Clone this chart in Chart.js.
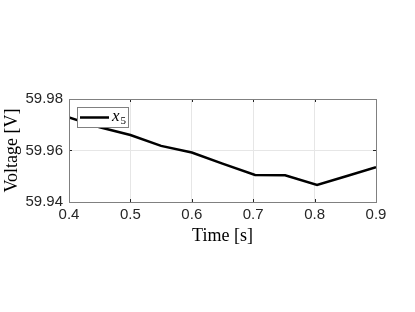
<!DOCTYPE html>
<html>
<head>
<meta charset="utf-8">
<script src="https://cdn.jsdelivr.net/npm/chart.js@4/dist/chart.umd.min.js"></script>
<style>
  html, body { margin: 0; padding: 0; background: #fff; }
  #wrap { width: 415px; height: 312px; }
</style>
</head>
<body>
<div id="wrap"><canvas id="voltage-chart"></canvas></div>
<script>
// values
var timeValues = [0.4, 0.45, 0.5, 0.55, 0.6, 0.65, 0.703, 0.752, 0.804, 0.85, 0.9];
var voltageValues = [59.9728, 59.9690, 59.9660, 59.9618, 59.9592, 59.9549, 59.9505, 59.9504, 59.9466, 59.9499, 59.9535];
var seriesLabel = 'x_5';
var xTicks = [0.4, 0.5, 0.6, 0.7, 0.8, 0.9];
var yTicks = [59.94, 59.96, 59.98];

var points = timeValues.map(function (t, i) {
    return { x: t, y: voltageValues[i] };
});

// box round the plot, small inner ticks and the legend inside the axes
var boxPlugin = {
    id: 'boxPlugin',
    afterDatasetsDraw: function (chart) {
        var ctx = chart.ctx;
        var a = chart.chartArea;
        var xs = chart.scales.x, ys = chart.scales.y;
        ctx.save();
        ctx.strokeStyle = '#262626';
        ctx.lineWidth = 1;
        xTicks.forEach(function (v) {
            var px = Math.round(xs.getPixelForValue(v)) + 0.5;
            ctx.beginPath();
            ctx.moveTo(px, a.bottom); ctx.lineTo(px, a.bottom - 3);
            ctx.moveTo(px, a.top); ctx.lineTo(px, a.top + 3);
            ctx.stroke();
        });
        yTicks.forEach(function (v) {
            var py = Math.round(ys.getPixelForValue(v)) + 0.5;
            ctx.beginPath();
            ctx.moveTo(a.left, py); ctx.lineTo(a.left + 3, py);
            ctx.moveTo(a.right, py); ctx.lineTo(a.right - 3, py);
            ctx.stroke();
        });
        ctx.strokeStyle = '#808080';
        ctx.strokeRect(Math.round(a.left) + 0.5, Math.round(a.top) + 0.5,
            Math.round(a.right - a.left), Math.round(a.bottom - a.top));

        // legend
        var lx = a.left + 8, ly = a.top + 8, lw = 51, lh = 20;
        ctx.fillStyle = '#fff';
        ctx.fillRect(lx, ly, lw, lh);
        ctx.strokeStyle = '#808080';
        ctx.strokeRect(lx + 0.5, ly + 0.5, lw, lh);
        ctx.strokeStyle = '#000';
        ctx.lineWidth = 2.5;
        ctx.beginPath();
        ctx.moveTo(lx + 3, ly + 10.5);
        ctx.lineTo(lx + 32, ly + 10.5);
        ctx.stroke();
        var parts = chart.data.datasets[0].label.split('_');
        ctx.fillStyle = '#000';
        ctx.textBaseline = 'alphabetic';
        ctx.font = 'italic 17px "Liberation Serif"';
        ctx.fillText(parts[0], lx + 35, ly + 14);
        var w = ctx.measureText(parts[0]).width;
        ctx.font = '11px "Liberation Serif"';
        ctx.fillText(parts[1], lx + 36 + w, ly + 17);
        ctx.restore();
    }
};

var ctx = document.getElementById('voltage-chart').getContext('2d');
var voltageChart = new Chart(ctx, {
    type: 'line',
    data: {
        datasets: [{
            label: seriesLabel,
            data: points,
            borderColor: '#000',
            borderWidth: 2.5,
            pointRadius: 0,
            tension: 0,
            fill: false
        }]
    },
    options: {
        responsive: true,
        maintainAspectRatio: false,
        animation: false,
        layout: { padding: { top: 99, right: 39, left: 0, bottom: 0 } },
        plugins: {
            legend: { display: false },
            tooltip: { enabled: false }
        },
        scales: {
            x: {
                type: 'linear',
                min: 0.4,
                max: 0.9,
                afterFit: function (scale) { scale.height = 110; },
                afterBuildTicks: function (scale) {
                    scale.ticks = xTicks.map(function (v) { return { value: v }; });
                },
                grid: { color: '#e6e6e6', drawTicks: false },
                border: { display: false },
                ticks: {
                    padding: 4,
                    color: '#262626',
                    font: { family: '"Liberation Sans", Arial', size: 15 },
                    callback: function (v) { return Number(v).toFixed(1); }
                },
                title: {
                    display: true,
                    text: 'Time [s]',
                    color: '#000',
                    font: { family: '"Liberation Serif"', size: 18 },
                    padding: { top: 0, bottom: 65 }
                }
            },
            y: {
                min: 59.94,
                max: 59.98,
                afterFit: function (scale) { scale.width = 69; },
                afterBuildTicks: function (scale) {
                    scale.ticks = yTicks.map(function (v) { return { value: v }; });
                },
                grid: { color: '#e6e6e6', drawTicks: false },
                border: { display: false },
                ticks: {
                    padding: 6,
                    color: '#262626',
                    font: { family: '"Liberation Sans", Arial', size: 15 },
                    callback: function (v) { return Number(v).toFixed(2); }
                },
                title: {
                    display: true,
                    text: 'Voltage [V]',
                    color: '#000',
                    font: { family: '"Liberation Serif"', size: 18 },
                    padding: { top: 1, bottom: 0 }
                }
            }
        }
    },
    plugins: [boxPlugin]
});
</script>
</body>
</html>
